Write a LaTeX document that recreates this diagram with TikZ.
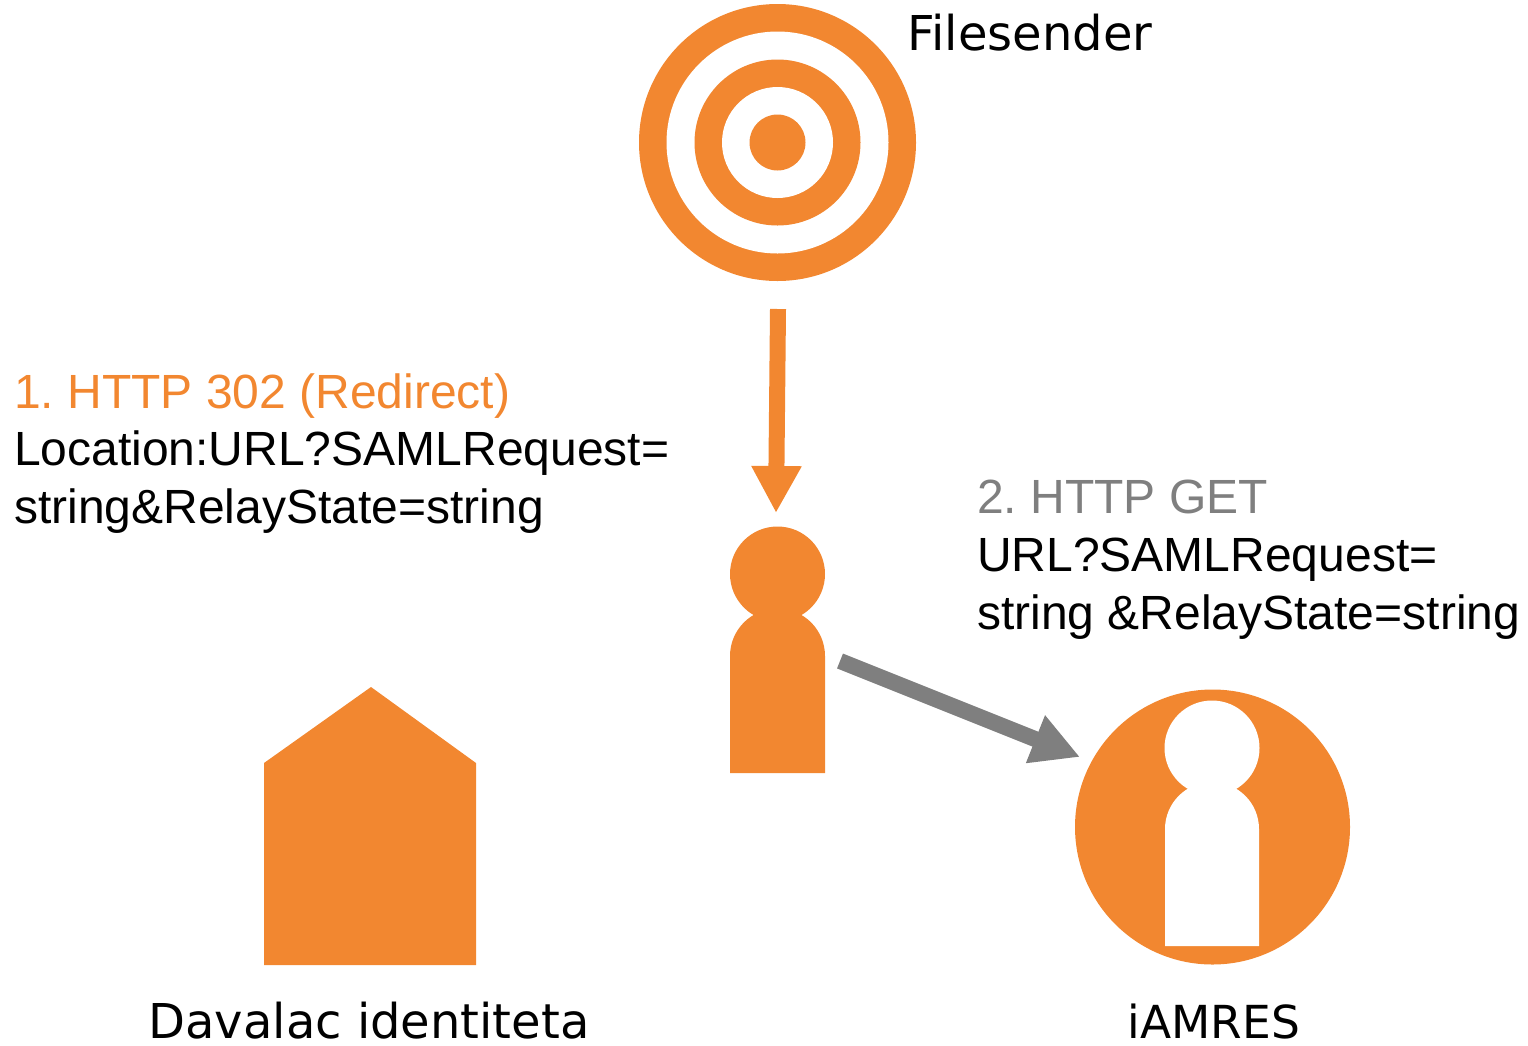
\documentclass[tikz,border=0pt]{standalone}
\usepackage{fontspec}
\setmainfont{Liberation Sans}
\newfontfamily\tahomalike{DejaVu Sans}
\usetikzlibrary{arrows.meta}
\definecolor{org}{HTML}{F28730}
\definecolor{gry}{HTML}{7F7F7F}
\tikzset{
  lab/.style={font=\fontsize{48}{56}\selectfont\tahomalike,inner sep=0pt,anchor=base},
  txt/.style={font=\fontsize{48}{56}\selectfont,inner sep=0pt,anchor=base west},
  disc/.style={circle,inner sep=0pt,minimum size=#1},
}
\begin{document}
\begin{tikzpicture}[x=1pt,y=-1pt]
\useasboundingbox (0,0) rectangle (1528,1045);
% target
\node[disc=277pt,fill=org] (t1) at (777.5,142.5) {};
\node[disc=222pt,fill=white] (t2) at (777.5,142.5) {};
\node[disc=166pt,fill=org] (t3) at (777.5,142.5) {};
\node[disc=111pt,fill=white] (t4) at (777.5,142.5) {};
\node[disc=56pt,fill=org] (t5) at (777.5,142.5) {};
\node[lab,anchor=base west] (fs) at (907,50) {Filesender};
% person
\fill[org] (730,773) -- (730,656) arc[start angle=180,end angle=360,radius=47.5] -- (825,773) -- cycle;
\node[disc=95pt,fill=org] (head) at (777.5,574) {};
% house
\fill[org] (264,965) -- (264,763) -- (371,687) -- (476,763) -- (476,965) -- cycle;
\node[lab] (dav) at (369,1038) {Davalac identiteta};
% iamres
\node[disc=275pt,fill=org] (iam) at (1212.5,827) {};
\fill[white] (1165,946) -- (1165,829) arc[start angle=180,end angle=360,radius=47] -- (1259,946) -- cycle;
\node[disc=95pt,fill=white] (ihead) at (1212,748) {};
\node[lab,font=\fontsize{45.5}{56}\selectfont\tahomalike] (iamt) at (1214,1038) {iAMRES};
% connectors
\coordinate (a1) at (778,309);
\coordinate (a2) at (776,513);
\draw[org,line width=16pt,-{Triangle[length=47pt,width=47pt]}] (a1) -- (a2);
\coordinate (b1) at (840,661);
\coordinate (b2) at (1080,757);
\draw[gry,line width=16pt,-{Triangle[length=48pt,width=48pt]}] (b1) -- (b2);
% text
\node[txt,text=org] (l1) at (14,408) {1.\kern-4.5pt{} HTTP 302 (Redirect)};
\node[txt] (l2) at (14,465) {Location:URL?SAMLRequest=};
\node[txt] (l3) at (14,523) {string\&RelayState=string};
\node[txt,text=gry] (r1) at (977,513) {2.\kern-4.5pt{} HTTP GET};
\node[txt] (r2) at (977,571) {URL?SAMLRequest=};
\node[txt] (r3) at (977,629) {string \&RelayState=string};
\end{tikzpicture}
\end{document}
